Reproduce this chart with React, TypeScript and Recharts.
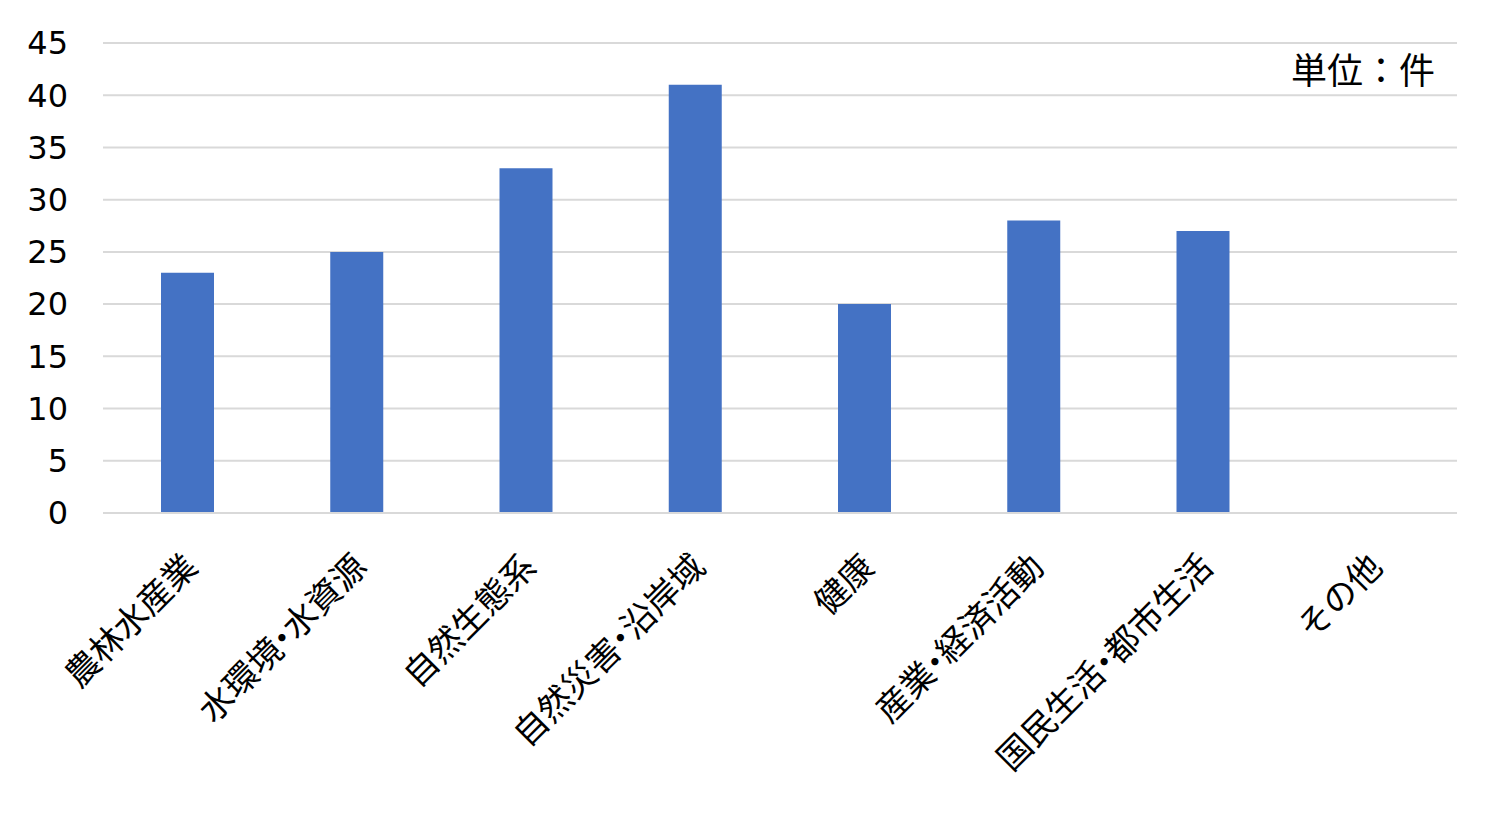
import { BarChart, Bar, XAxis, YAxis, CartesianGrid } from "recharts";

const categories = [
  "農林水産業",
  "水環境・水資源",
  "自然生態系",
  "自然災害・沿岸域",
  "健康",
  "産業・経済活動",
  "国民生活・都市生活",
  "その他",
];
const counts = [23, 25, 33, 41, 20, 28, 27, 0];
const yTicks = [0, 5, 10, 15, 20, 25, 30, 35, 40, 45];
const unitLabel = "単位：件";

const data = categories.map((name, i) => ({ name, count: counts[i] }));

const FONT = '"DejaVu Sans", Verdana, "Noto Sans CJK JP", sans-serif';
const JP_FONT = '"Noto Sans CJK JP", sans-serif';

// rotated category label; the middle dot is drawn half-width
function CategoryTick(props: any) {
  const { x, y, payload } = props;
  const parts = String(payload.value).split("・");
  return (
    <g transform={`translate(${x + 12},${y + 48})`}>
      <text
        x={0}
        y={0}
        transform="rotate(-45)"
        textAnchor="end"
        fontSize={34}
        fontFamily={JP_FONT}
        fill="#000"
      >
        {parts.map((p, i) =>
          i === 0 ? (
            <tspan key={i}>{p}</tspan>
          ) : (
            [
              <tspan key={`d${i}`} dx={-9}>・</tspan>,
              <tspan key={i} dx={-9}>{p}</tspan>,
            ]
          )
        )}
      </text>
    </g>
  );
}

export default function App() {
  return (
    <div style={{ position: "absolute", left: 0, top: 0, width: 1500, height: 813, background: "#fff" }}>
      <BarChart
        width={1500}
        height={813}
        data={data}
        margin={{ top: 43, right: 43, left: 0, bottom: 20 }}
      >
        <CartesianGrid vertical={false} stroke="#d9d9d9" strokeWidth={2} />
        <XAxis
          dataKey="name"
          interval={0}
          height={280}
          tickLine={false}
          axisLine={{ stroke: "#d9d9d9", strokeWidth: 2 }}
          tick={<CategoryTick />}
        />
        <YAxis
          width={103}
          domain={[0, 45]}
          ticks={yTicks}
          interval={0}
          axisLine={false}
          tickLine={false}
          tickSize={0}
          tickMargin={35}
          tick={{ fill: "#000", fontSize: 32, fontFamily: FONT }}
        />
        <Bar dataKey="count" fill="#4472C4" barSize={53} isAnimationActive={false} />
      </BarChart>
      <div
        style={{
          position: "absolute",
          right: 65,
          top: 50,
          fontSize: 36,
          fontFamily: JP_FONT,
          color: "#000",
          lineHeight: 1,
        }}
      >
        {unitLabel}
      </div>
    </div>
  );
}
